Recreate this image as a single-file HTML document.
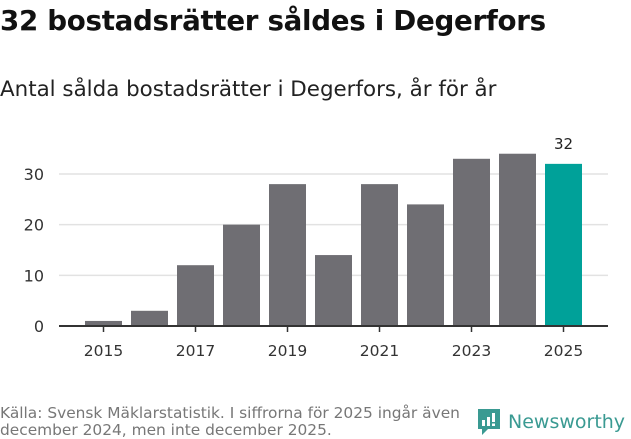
<!DOCTYPE html>
<html><head><meta charset="utf-8"><style>
body{margin:0;width:631px;height:439px;background:#fff;font-family:"DejaVu Sans","Liberation Sans",sans-serif;overflow:hidden;position:relative}
h1{position:absolute;left:0;top:4px;margin:0;font-size:27.7px;font-weight:bold;color:#111;letter-spacing:-0.3px}
.sub{position:absolute;left:0;top:77px;font-size:21.4px;color:#222}
.src{position:absolute;left:0;top:405px;font-size:15.4px;color:#777;line-height:17px}
.logo{position:absolute;left:476px;top:408px;display:flex;align-items:center;gap:6px;color:#3a9a92;font-size:19px}
</style></head><body>
<h1>32 bostadsrätter såldes i Degerfors</h1>
<div class="sub">Antal sålda bostadsrätter i Degerfors, år för år</div>
<svg id="c" width="631" height="439" style="position:absolute;left:0;top:0"></svg>
<div class="src">Källa: Svensk Mäklarstatistik. I siffrorna för 2025 ingår även<br>december 2024, men inte december 2025.</div>
<div class="logo"><svg width="26" height="28" viewBox="0 0 26 28"><path d="M2 1h22v20H12l-6 6v-6H2z" fill="#3a9a92"/><rect x="6" y="12" width="3" height="6" fill="#fff"/><rect x="11" y="9" width="3" height="9" fill="#fff"/><rect x="16" y="5" width="3" height="9" fill="#fff"/><rect x="16" y="15.5" width="3" height="2.5" fill="#fff"/></svg><span>Newsworthy</span></div>
<script>
const years=[2015,2016,2017,2018,2019,2020,2021,2022,2023,2024,2025];
const values=[1,3,12,20,28,14,28,24,33,34,32];
const yTicks=[0,10,20,30];
const xLabels=[2015,2017,2019,2021,2023,2025];
const ns="http://www.w3.org/2000/svg",svg=document.getElementById('c');
const y=v=>326-v*5.067, x=yr=>103.5+(yr-2015)*46;
function el(t,a){const e=document.createElementNS(ns,t);for(const k in a)e.setAttribute(k,a[k]);svg.appendChild(e);return e;}
yTicks.forEach(t=>{
 if(t>0){const g=el('line',{x1:59,x2:608,y1:y(t),y2:y(t),stroke:'#e2e2e2','stroke-width':1.5});
 
 }
 const l=el('text',{x:44,y:y(t)+6,'text-anchor':'end','font-size':16,fill:'#333'});l.textContent=t;
 
 
});
years.forEach((yr,i)=>{
 const last=i===years.length-1;
 const r=el('rect',{x:x(yr)-18.5,y:y(values[i]),width:37,height:326-y(values[i]),fill:last?'#00a199':'#6f6e73'});
 
 
 if(last){const t=el('text',{x:x(yr),y:y(values[i])-15,'text-anchor':'middle','font-size':15,fill:'#222'});t.textContent=values[i];
 
 }
});
const ax=el('line',{x1:59,x2:608,y1:326,y2:326,stroke:'#333','stroke-width':2});


xLabels.forEach(yr=>{
 const tk=el('line',{x1:x(yr),x2:x(yr),y1:326,y2:332,stroke:'#333','stroke-width':1.5});
 
 
 const t=el('text',{x:x(yr),y:356,'text-anchor':'middle','font-size':15.5,fill:'#333'});t.textContent=yr;
 
 
});
</script>
</body></html>
